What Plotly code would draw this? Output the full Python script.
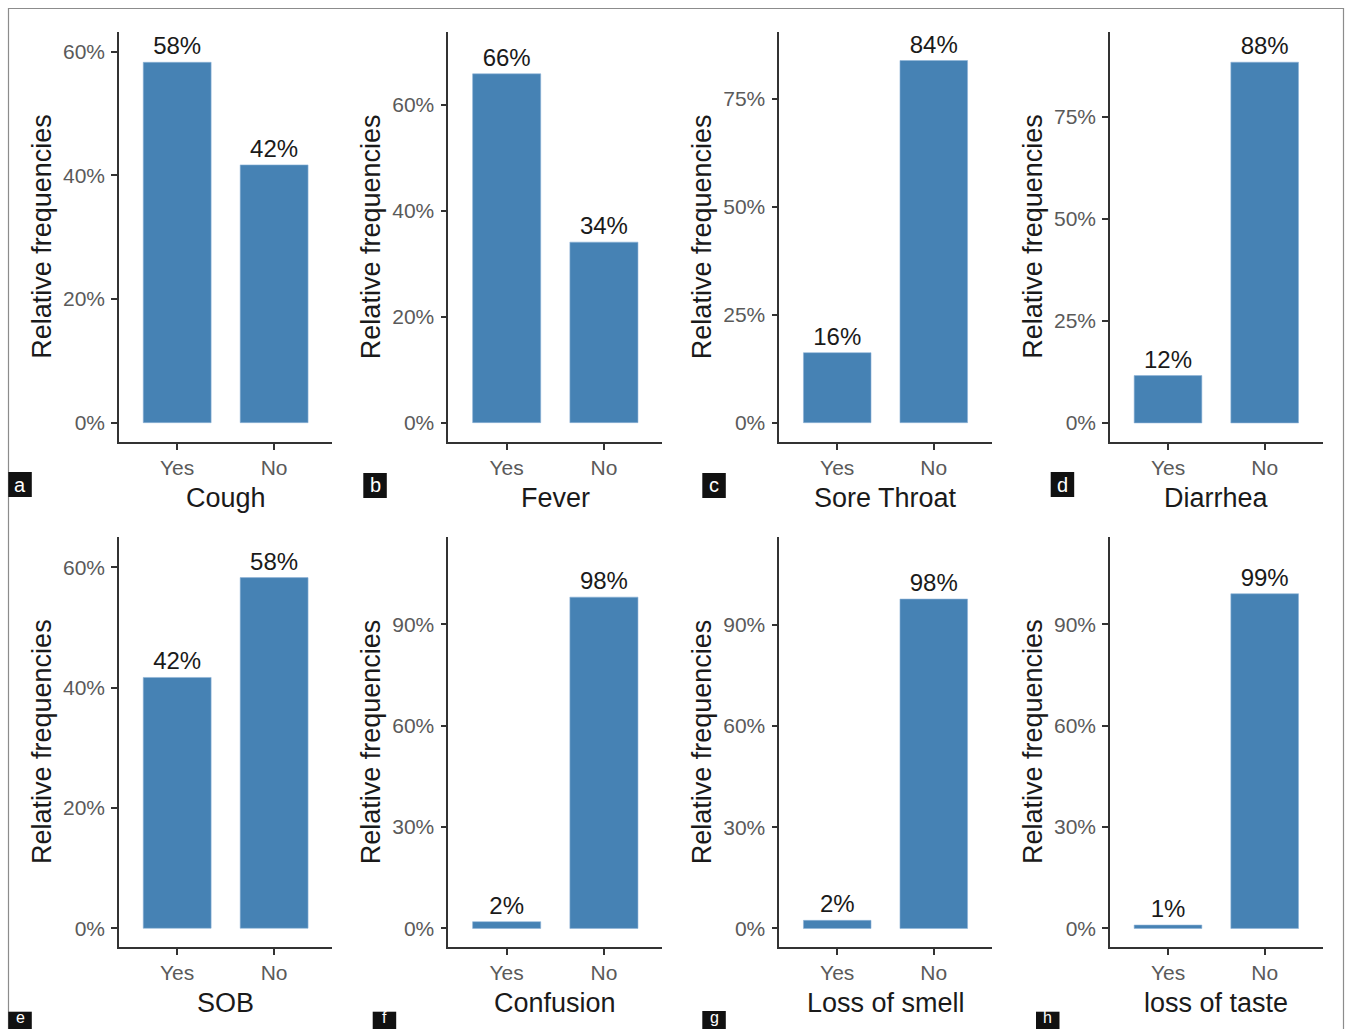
import plotly.graph_objects as go

# ---------------- data ----------------
categories = ["Yes", "No"]
symptoms = ["Cough", "Fever", "Sore Throat", "Diarrhea",
            "SOB", "Confusion", "Loss of smell", "loss of taste"]
panel_letters = ["a", "b", "c", "d", "e", "f", "g", "h"]

cough = [58.3, 41.7]
fever = [65.9, 34.1]
sore_throat = [16.2, 83.8]
diarrhea = [11.6, 88.4]
sob = [41.7, 58.3]
confusion = [2.0, 98.0]
loss_of_smell = [2.4, 97.6]
loss_of_taste = [1.0, 99.0]

tick_values = [
    [0, 20, 40, 60],
    [0, 20, 40, 60],
    [0, 25, 50, 75],
    [0, 25, 50, 75],
    [0, 20, 40, 60],
    [0, 30, 60, 90],
    [0, 30, 60, 90],
    [0, 30, 60, 90],
]

series = [cough, fever, sore_throat, diarrhea, sob, confusion, loss_of_smell, loss_of_taste]

# ---------------- layout geometry ----------------
W, H = 1346, 1029
y_ranges = [
    [-3.08, 63.2], [-3.6, 73.8], [-4.4, 90.4], [-4.6, 95.8],
    [-3.06, 65.0], [-5.4, 115.7], [-5.4, 115.9], [-5.4, 115.7],
]
col_x = [(119, 332.3), (448.3, 662.3), (779.3, 991.7), (1110, 1322.7)]
row_y = [(32, 441.7), (537.3, 946.7)]
letter_boxes = [(8.3, 472), (363.3, 473), (702.3, 473), (1050.7, 472),
                (8.3, 1011.7), (372.7, 1011.7), (702.3, 1011), (1036, 1011.7)]


def px(x):
    return x / W


def py(y):
    return 1 - y / H


BAR = "#4682B4"
AXIS = "#333333"
FAMILY = "Liberation Sans, Arial, sans-serif"
TICKFONT = dict(family=FAMILY, size=21, color="#5a5a5a")
TITLEFONT = dict(family=FAMILY, size=27, color="#1a1a1a")

fig = go.Figure()
layout = dict(
    width=W, height=H,
    margin=dict(l=0, r=0, t=0, b=0),
    paper_bgcolor="white", plot_bgcolor="white",
    showlegend=False,
)
annotations = []
shapes = []

for i, vals in enumerate(series):
    r, c = divmod(i, 4)
    n = "" if i == 0 else str(i + 1)
    xa, ya = "x" + n, "y" + n
    fig.add_trace(go.Bar(
        x=categories, y=vals, xaxis=xa, yaxis=ya,
        width=0.7,
        marker=dict(color=BAR, line=dict(width=0.6, color="#8fb3d6")),
        texttemplate="%{y:.0f}%", textposition="outside",
        textfont=dict(family=FAMILY, size=24, color="#1a1a1a"),
        constraintext="none", cliponaxis=False,
        hoverinfo="x+y",
    ))
    x0, x1 = col_x[c]
    yt, yb = row_y[r]
    layout["xaxis" + n] = dict(
        domain=[px(x0), px(x1)], anchor=ya, type="category",
        categoryorder="array", categoryarray=categories,
        range=[-0.6, 1.6], showline=True, linecolor=AXIS, linewidth=1.6,
        ticks="outside", ticklen=6, tickwidth=1.5, tickcolor=AXIS,
        tickfont=TICKFONT, showgrid=False, zeroline=False, fixedrange=True,
    )
    layout["yaxis" + n] = dict(
        domain=[py(yb), py(yt)], anchor=xa,
        range=y_ranges[i], tickvals=tick_values[i],
        ticktext=[f"{v}%" for v in tick_values[i]],
        showline=True, linecolor=AXIS, linewidth=1.6,
        ticks="outside", ticklen=6, tickwidth=1.5, tickcolor=AXIS,
        ticklabelstandoff=2,
        tickfont=TICKFONT, showgrid=False, zeroline=False, fixedrange=True,
    )
    # axis titles
    annotations.append(dict(
        text=symptoms[i], xref=xa + " domain", yref=ya + " domain",
        x=0.5, y=0, xanchor="center", yanchor="middle", yshift=-56,
        showarrow=False, font=TITLEFONT,
    ))
    annotations.append(dict(
        text="Relative frequencies", xref=xa + " domain", yref=ya + " domain",
        x=0, y=0.5, xanchor="center", yanchor="middle", xshift=-77, textangle=-90,
        showarrow=False, font=TITLEFONT,
    ))
    # panel letter boxes
    bx, by = letter_boxes[i]
    shapes.append(dict(
        type="rect", xref="paper", yref="paper",
        x0=px(bx), x1=px(bx + 23.5), y0=py(by + 25), y1=py(by),
        fillcolor="#111111", line=dict(width=0), layer="above",
    ))
    if r == 0:
        annotations.append(dict(
            text=panel_letters[i], xref="paper", yref="paper",
            x=px(bx + 11.75), y=py(by + 12.5), xanchor="center", yanchor="middle",
            showarrow=False, font=dict(family=FAMILY, size=20, color="white"),
        ))
    else:
        # bottom row boxes run off the picture; keep the letter inside it
        annotations.append(dict(
            text=panel_letters[i], xref="paper", yref="paper",
            x=px(bx + 11.75), y=py(H - 1), xanchor="center", yanchor="bottom",
            showarrow=False, font=dict(family=FAMILY, size=16, color="white"),
        ))

# outer frame (bottom edge lies outside the picture)
shapes.insert(0, dict(
    type="rect", xref="paper", yref="paper",
    x0=px(8.5), x1=px(1343.5), y0=-0.1, y1=py(8.5),
    line=dict(color="#8c8c8c", width=1.2), fillcolor="rgba(0,0,0,0)", layer="below",
))

layout["annotations"] = annotations
layout["shapes"] = shapes
fig.update_layout(**layout)

fig.write_html("out.html", post_script="document.body.style.margin='0px';",
               config={"displayModeBar": False})
